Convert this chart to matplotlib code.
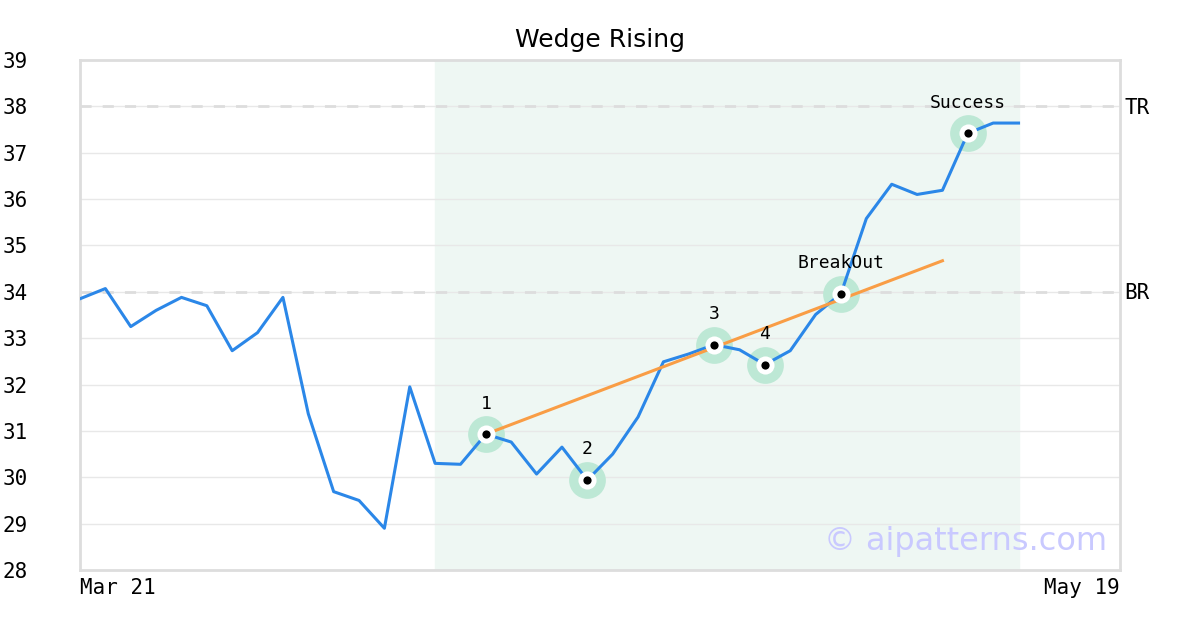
import matplotlib
matplotlib.use('Agg')
import matplotlib.pyplot as plt
import numpy as np

# price series (one value per trading day, index 0 = Mar 21)
prices = [33.85, 34.07, 33.25, 33.6, 33.88, 33.7, 32.73, 33.12, 33.88, 31.37,
          29.69, 29.5, 28.9, 31.95, 30.3, 30.28, 30.93, 30.76, 30.07, 30.65,
          29.94, 30.5, 31.3, 32.49, 32.66, 32.86, 32.75, 32.43, 32.73, 33.51,
          33.96, 35.58, 36.32, 36.1, 36.19, 37.42, 37.64, 37.64]
n_days = 42
date_labels = ['Mar 21', 'May 19']

pattern_span = (14, 37)
trend_x = [16, 34]
trend_y = [30.93, 34.67]

point_idx = [16, 20, 25, 27, 30, 35]
point_labels = ['1', '2', '3', '4', 'BreakOut', 'Success']

levels = {'TR': 38, 'BR': 34}
title = 'Wedge Rising'

mono = 'DejaVu Sans Mono'

fig = plt.figure(figsize=(12, 6.3), dpi=100)
ax = fig.add_axes([80 / 1200, 60 / 630, 1040 / 1200, 510 / 630])

x = np.arange(len(prices))
ax.set_xlim(0, n_days - 1)
ax.set_ylim(28, 39)

ax.axvspan(*pattern_span, color='#eef7f3', zorder=0)
for yv in range(28, 40):
    ax.axhline(yv, color='#e8e8e8', lw=1, zorder=1)
for name, yv in levels.items():
    ax.axhline(yv, color='#dddddd', lw=2, ls=(0, (4, 4)), zorder=1)
    ax.text(1.004, yv - 0.03, name, transform=ax.get_yaxis_transform(), fontsize=15,
            family=mono, va='center', ha='left')

ax.plot(x, prices, color='#2b87e8', lw=2.2, zorder=3)
ax.plot(trend_x, trend_y, color='#f99d45', lw=2.2, zorder=4)

px = [x[i] for i in point_idx]
py = [prices[i] for i in point_idx]
ax.scatter(px, py, s=700, color='#bde8d5', zorder=2, linewidths=0)
ax.scatter(px, py, s=170, color='white', zorder=5, linewidths=0)
ax.scatter(px, py, s=35, color='black', zorder=6, linewidths=0)
for xi, yi, lab in zip(px, py, point_labels):
    ax.annotate(lab, (xi, yi), xytext=(0, 22), textcoords='offset points',
                ha='center', va='center', fontsize=13, family=mono, zorder=7)

ax.text(0.988, 0.055, '\u00a9 aipatterns.com', transform=ax.transAxes,
        ha='right', va='center', fontsize=23, color='#c9c9ff', zorder=8)

ax.set_yticks(range(28, 40))
ax.set_yticklabels([str(v) for v in range(28, 40)], family=mono, fontsize=15)
ax.tick_params(axis='y', length=0, pad=56)
for t in ax.get_yticklabels():
    t.set_horizontalalignment('left')
ax.set_xticks([0, n_days - 1])
ax.set_xticklabels(date_labels, family=mono, fontsize=15)
ax.tick_params(axis='x', length=0, pad=6)
xt = ax.get_xticklabels()
xt[0].set_horizontalalignment('left')
xt[1].set_horizontalalignment('right')

for s in ax.spines.values():
    s.set_color('#dddddd')
    s.set_linewidth(2)

fig.text(0.5, 1 - 40 / 630, title, ha='center', va='center', fontsize=18)

fig.savefig('out.png', dpi=100)
